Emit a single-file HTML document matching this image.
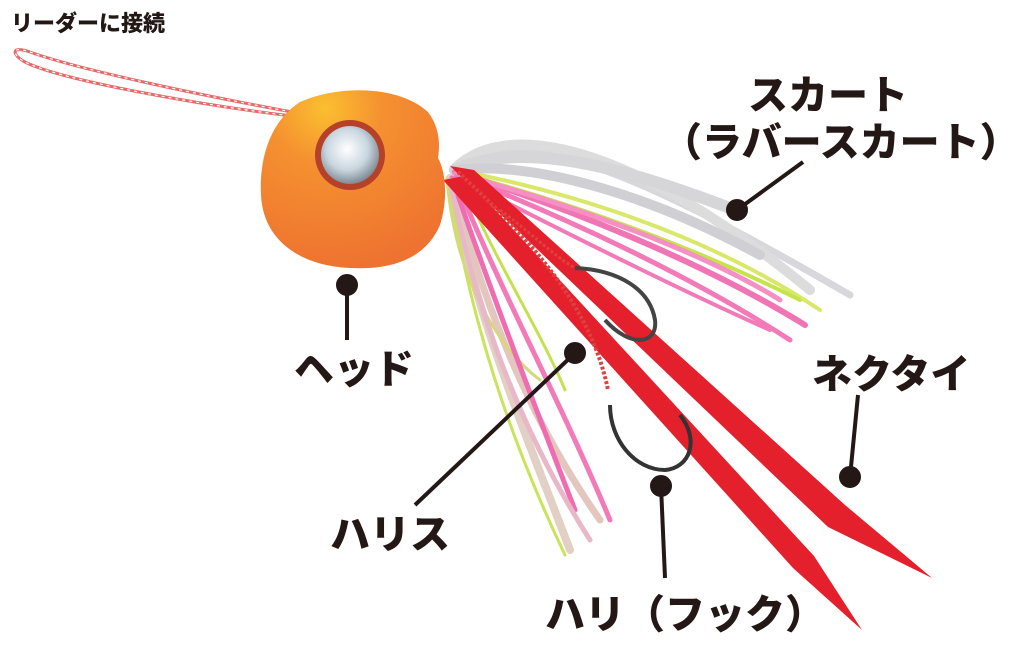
<!DOCTYPE html>
<html><head><meta charset="utf-8"><style>
html,body{margin:0;padding:0;background:#fff;}
body{width:1024px;height:654px;overflow:hidden;position:relative;}
svg{position:absolute;left:0;top:0;}
.t{font-family:"Liberation Sans","Noto Sans CJK JP",sans-serif;font-weight:900;fill:#231815;}
</style></head><body>
<svg width="1024" height="654" viewBox="0 0 1024 654" xmlns="http://www.w3.org/2000/svg">
<defs>
<radialGradient id="hd" cx="0.35" cy="0.1" r="0.9">
<stop offset="0" stop-color="#fbbf30"/><stop offset="0.35" stop-color="#f59030"/><stop offset="1" stop-color="#ee7330"/>
</radialGradient>
<radialGradient id="ey" cx="0.45" cy="0.4" r="0.6">
<stop offset="0" stop-color="#ffffff"/><stop offset="0.6" stop-color="#c9d6df"/><stop offset="1" stop-color="#7e8a94"/>
</radialGradient>
</defs>
<!-- leader loop -->
<path d="M292,112 C200,95 80,70 30,52 C10,45 12,55 25,62 C60,80 200,105 292,116" fill="none" stroke="#e66a6a" stroke-width="3"/>
<path d="M292,112 C200,95 80,70 30,52 C10,45 12,55 25,62 C60,80 200,105 292,116" fill="none" stroke="#fff" stroke-width="1.2" stroke-dasharray="3 4"/>
<!-- skirt strands (behind) -->
<g fill="none" stroke-linecap="round">
<path d="M455,170 C520,130 600,150 850,295" stroke="#d8d8dc" stroke-width="7"/>
<path d="M455,168 C510,115 640,150 810,290" stroke="#dcdcdc" stroke-width="10"/>
<path d="M455,170 C520,140 620,165 740,212" stroke="#d6d6d8" stroke-width="12"/>
<path d="M455,170 C540,160 660,200 760,255" stroke="#d0d0d4" stroke-width="10"/>
<path d="M455,170 C560,190 700,230 820,310" stroke="#d9e86a" stroke-width="4"/>
<path d="M455,172 C560,200 680,240 800,300" stroke="#c6e34a" stroke-width="4"/>
<path d="M455,172 C560,205 700,260 805,325" stroke="#f075b5" stroke-width="6"/>
<path d="M455,174 C560,215 690,275 790,340" stroke="#f27ab8" stroke-width="5"/>
<path d="M455,174 C560,200 700,250 780,300" stroke="#f590c4" stroke-width="5"/>
<path d="M455,176 C560,230 680,290 770,330" stroke="#f27ab8" stroke-width="4"/>
<path d="M450,178 C470,300 520,420 570,550" stroke="#e1d0c3" stroke-width="8"/>
<path d="M452,178 C480,300 530,420 600,520" stroke="#e3c7bf" stroke-width="7"/>
<path d="M448,180 C470,320 510,440 565,555" stroke="#c9e35a" stroke-width="3"/>
<path d="M447,178 C455,280 500,350 540,380" stroke="#d5d97a" stroke-width="3"/>
<path d="M452,178 C490,290 540,420 575,510" stroke="#f06cb0" stroke-width="5"/>
<path d="M455,178 C500,290 560,400 610,520" stroke="#f27ab8" stroke-width="5"/>
<path d="M460,178 C500,270 540,330 565,390" stroke="#c5e050" stroke-width="3"/>
<path d="M450,180 C475,310 520,430 590,540" stroke="#e8b8c8" stroke-width="5"/>
</g>
<!-- neckties -->
<path d="M450,166 L474,170 L845,505 L932,578 L828,527 Z" fill="#e3202c"/>
<path d="M443,180 L464,176 L814,556 L862,630 L793,568 Z" fill="#e3202c"/>
<!-- harisu line -->
<path d="M458,172 C520,230 590,300 608,390" fill="none" stroke="#e04040" stroke-width="4" stroke-dasharray="3 2"/>
<path d="M500,210 C540,240 560,262 580,270" fill="none" stroke="#e04040" stroke-width="3" stroke-dasharray="3 2"/>
<!-- hooks -->
<path d="M575,268 C620,270 650,290 655,320 C658,345 630,348 605,320" fill="none" stroke="#444" stroke-width="4"/>
<path d="M610,405 C610,440 635,470 665,470 C690,468 700,440 680,415" fill="none" stroke="#333" stroke-width="4"/>
<!-- head -->
<path d="M300,102 C340,84 400,86 428,112 C440,128 440,145 438,158 C446,172 448,200 440,225 C425,260 390,270 350,268 C300,266 263,240 261,195 C259,155 272,120 300,102 Z" fill="url(#hd)"/>
<circle cx="350" cy="155" r="35" fill="#b5412a"/>
<circle cx="350" cy="155" r="29" fill="url(#ey)"/>
<!-- callout lines -->
<g stroke="#231815" stroke-width="4" fill="#231815">
<line x1="347" y1="285" x2="347" y2="340"/><circle cx="347" cy="285" r="9"/>
<line x1="737" y1="210" x2="803" y2="162"/><circle cx="737" cy="210" r="9"/>
<line x1="575" y1="353" x2="415" y2="505"/><circle cx="575" cy="353" r="9"/>
<line x1="661" y1="486" x2="665" y2="578"/><circle cx="661" cy="486" r="9"/>
<line x1="850" y1="477" x2="858" y2="395"/><circle cx="850" cy="477" r="9"/>
</g>
<!-- labels -->
<text class="t" x="11" y="31" font-size="22">リーダーに接続</text>
<text class="t" x="748" y="109" font-size="40">スカート</text>
<text class="t" x="662" y="156" font-size="40">（ラバースカート）</text>
<text class="t" x="294" y="383" font-size="40">ヘッド</text>
<text class="t" x="812" y="388" font-size="40">ネクタイ</text>
<text class="t" x="330" y="548" font-size="40">ハリス</text>
<text class="t" x="545" y="628" font-size="40">ハリ（フック）</text>
</svg>
</body></html>
